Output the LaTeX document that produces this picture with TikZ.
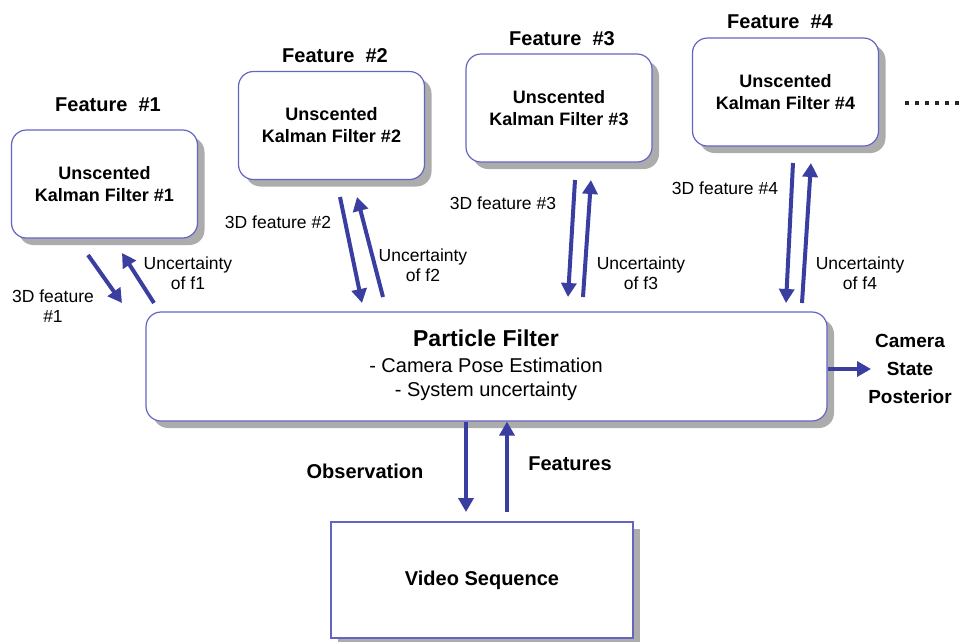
\documentclass[tikz,border=0pt]{standalone}
\usepackage{fontspec}
\setmainfont{Liberation Sans}
\usetikzlibrary{arrows.meta,shadows}
\definecolor{arrowblue}{RGB}{58,62,160}
\definecolor{boxblue}{RGB}{100,100,195}
\definecolor{shadowgray}{RGB}{172,172,172}
\begin{document}
\begin{tikzpicture}[x=1pt,y=-1pt,
  boxshadow/.style={drop shadow={shadow xshift=7pt,shadow yshift=-7pt,fill=shadowgray,opacity=1}},
  ukf/.style={draw=boxblue, line width=1.2pt, fill=white, rounded corners=15pt,
    minimum width=186pt, minimum height=108pt, inner sep=0pt, align=center,
    font=\bfseries\fontsize{18}{22}\selectfont, boxshadow},
  pfbox/.style={draw=boxblue, line width=1.2pt, fill=white, rounded corners=15pt,
    minimum width=681pt, minimum height=109pt, inner sep=0pt, boxshadow},
  vidbox/.style={draw=boxblue, line width=1.2pt, fill=white,
    minimum width=302pt, minimum height=116pt, inner sep=0pt, align=center,
    font=\bfseries\fontsize{20}{24}\selectfont, boxshadow},
  title/.style={font=\bfseries\fontsize{20}{24}\selectfont, inner sep=0pt},
  lbl/.style={align=center, font=\fontsize{17.5}{20}\selectfont, inner sep=0pt},
  blbl/.style={align=center, font=\bfseries\fontsize{20}{24}\selectfont, inner sep=0pt},
  arr/.style={draw=arrowblue, line width=4pt, -{Triangle[length=14pt,width=15pt]}}
]
\useasboundingbox (0,0) rectangle (959,641);

% Unscented Kalman filter boxes with their titles
\node[ukf] (ukf1) at (104.5,184) {Unscented\\Kalman Filter \#1};
\node[ukf] (ukf2) at (331.5,125.5) {Unscented\\Kalman Filter \#2};
\node[ukf] (ukf3) at (559,108) {Unscented\\Kalman Filter \#3};
\node[ukf] (ukf4) at (785.5,92) {Unscented\\Kalman Filter \#4};

\node[title] (t1) at (108,105) {Feature\ \ \#1};
\node[title] (t2) at (335,56) {Feature\ \ \#2};
\node[title] (t3) at (562,39) {Feature\ \ \#3};
\node[title] (t4) at (780,22) {Feature\ \ \#4};

% more features follow
\foreach \i in {0,...,5}
  \fill[black!85] (905+10*\i,101) rectangle +(4,4);

% particle filter
\node[pfbox] (pf) at (486.5,366.5) {};
\node[inner sep=0pt, font=\bfseries\fontsize{23}{27}\selectfont] (pft) at (486,338) {Particle Filter};
\node[inner sep=0pt, font=\fontsize{20}{24}\selectfont] (pfa) at (486,365) {- Camera Pose Estimation};
\node[inner sep=0pt, font=\fontsize{20}{24}\selectfont] (pfb) at (486,391) {- System uncertainty};

% video sequence
\node[vidbox] (vid) at (482,580) {Video Sequence};

% connector end points
\coordinate (a1s) at (88,255);  \coordinate (a1e) at (122,303);
\coordinate (b1s) at (154,303); \coordinate (b1e) at (122,253);
\coordinate (a2s) at (340,197); \coordinate (a2e) at (362,303);
\coordinate (b2s) at (383,297); \coordinate (b2e) at (357,197);
\coordinate (a3s) at (575,180); \coordinate (a3e) at (568,297);
\coordinate (b3s) at (583,297); \coordinate (b3e) at (591,180);
\coordinate (a4s) at (793,163); \coordinate (a4e) at (786,303);
\coordinate (b4s) at (802,303); \coordinate (b4e) at (811,163);
\coordinate (pfo) at (871,369);
\coordinate (obs) at (466,512);
\coordinate (fts) at (507,512);

% feature exchange arrows
\draw[arr] (a1s) -- (a1e);
\draw[arr] (b1s) -- (b1e);
\draw[arr] (a2s) -- (a2e);
\draw[arr] (b2s) -- (b2e);
\draw[arr] (a3s) -- (a3e);
\draw[arr] (b3s) -- (b3e);
\draw[arr] (a4s) -- (a4e);
\draw[arr] (b4s) -- (b4e);

% output and video arrows
\draw[arr] (pf.east |- pfo) -- (pfo);
\draw[arr] (pf.south -| obs) -- (obs);
\draw[arr] (fts) -- (pf.south -| fts);

% labels
\node[lbl] (l1a) at (53,306) {3D feature\\\#1};
\node[lbl] (l1b) at (188,273) {Uncertainty\\of f1};
\node[lbl] (l2a) at (278,222) {3D feature \#2};
\node[lbl] (l2b) at (423,265) {Uncertainty\\of f2};
\node[lbl] (l3a) at (503,203) {3D feature \#3};
\node[lbl] (l3b) at (641,273) {Uncertainty\\of f3};
\node[lbl] (l4a) at (725,188) {3D feature \#4};
\node[lbl] (l4b) at (860,273) {Uncertainty\\of f4};

\node[align=center, inner sep=0pt, font=\bfseries\fontsize{19}{28}\selectfont] (cam) at (910,369) {Camera\\State\\Posterior};
\node[blbl] (lobs) at (365,471) {Observation};
\node[blbl] (lfts) at (570,464) {Features};
\end{tikzpicture}
\end{document}
